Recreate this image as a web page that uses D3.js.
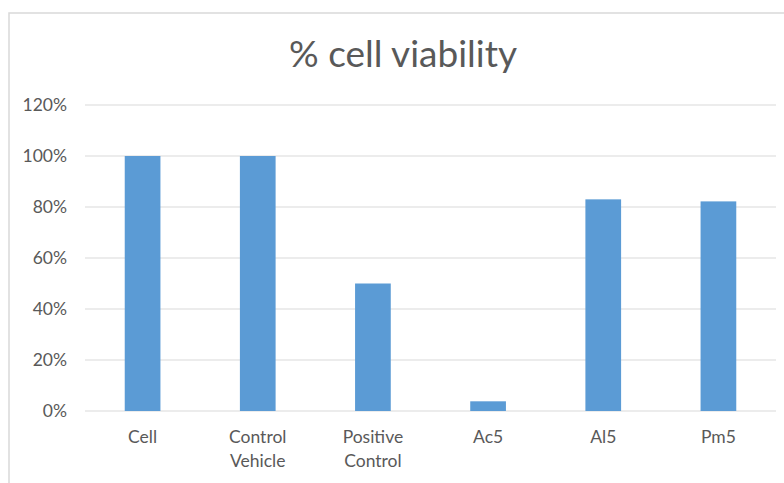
<!DOCTYPE html>
<html>
<head>
<meta charset="utf-8">
<script src="https://cdn.jsdelivr.net/npm/d3@7"></script>
<style>
  html, body { margin: 0; padding: 0; background: #fff; }
  svg { display: block; }
</style>
</head>
<body>
<script>
// Chart data
const categories = [["Cell"], ["Control", "Vehicle"], ["Positive", "Control"], ["Ac5"], ["Al5"], ["Pm5"]];
const viability = [1.00, 1.00, 0.50, 0.038, 0.83, 0.822];
const yTicks = [0, 0.2, 0.4, 0.6, 0.8, 1.0, 1.2];

const width = 784, height = 483;
const fontFam = "Lato, 'Open Sans', sans-serif";

const svg = d3.select("body").append("svg")
  .attr("width", width)
  .attr("height", height);

// Outer chart frame (runs off the right and bottom edges)
svg.append("rect")
  .attr("x", 9)
  .attr("y", 13)
  .attr("width", 800)
  .attr("height", 500)
  .attr("fill", "none")
  .attr("stroke", "#d9d9d9")
  .attr("stroke-width", 1.5);

const x = d3.scaleBand()
  .domain(d3.range(categories.length))
  .range([85, 776])
  .paddingInner(0.69)
  .paddingOuter(0.345);

const y = d3.scaleLinear()
  .domain([0, 1.2])
  .range([411, 105]);

// Gridlines
svg.append("g")
  .selectAll("line")
  .data(yTicks)
  .enter()
  .append("line")
  .attr("x1", 85)
  .attr("x2", 776)
  .attr("y1", d => y(d))
  .attr("y2", d => y(d))
  .attr("stroke", "#d9d9d9")
  .attr("stroke-width", 1);

// Y axis labels
svg.append("g")
  .selectAll("text")
  .data(yTicks)
  .enter()
  .append("text")
  .attr("x", 67)
  .attr("y", d => y(d) + 6)
  .attr("text-anchor", "end")
  .attr("font-family", fontFam)
  .attr("font-size", "17.5px")
  .attr("fill", "#595959")
  .text(d => d3.format(".0%")(d));

// Bars
svg.append("g")
  .selectAll("rect")
  .data(viability)
  .enter()
  .append("rect")
  .attr("x", (d, i) => x(i))
  .attr("y", d => y(d))
  .attr("width", x.bandwidth())
  .attr("height", d => y(0) - y(d))
  .attr("fill", "#5b9bd5");

// Category labels
const catLabels = svg.append("g")
  .selectAll("text")
  .data(categories)
  .enter()
  .append("text")
  .attr("x", (d, i) => x(i) + x.bandwidth() / 2)
  .attr("y", 443)
  .attr("text-anchor", "middle")
  .attr("font-family", fontFam)
  .attr("font-size", "17.5px")
  .attr("fill", "#595959");

catLabels.selectAll("tspan")
  .data(d => d)
  .enter()
  .append("tspan")
  .attr("x", function () { return d3.select(this.parentNode).attr("x"); })
  .attr("dy", (d, i) => i === 0 ? 0 : 24)
  .text(d => d);

// Title
svg.append("text")
  .attr("x", 403)
  .attr("y", 67)
  .attr("text-anchor", "middle")
  .attr("font-family", fontFam)
  .attr("font-size", "37px")
  .attr("fill", "#595959")
  .text("% cell viability");
</script>
</body>
</html>
